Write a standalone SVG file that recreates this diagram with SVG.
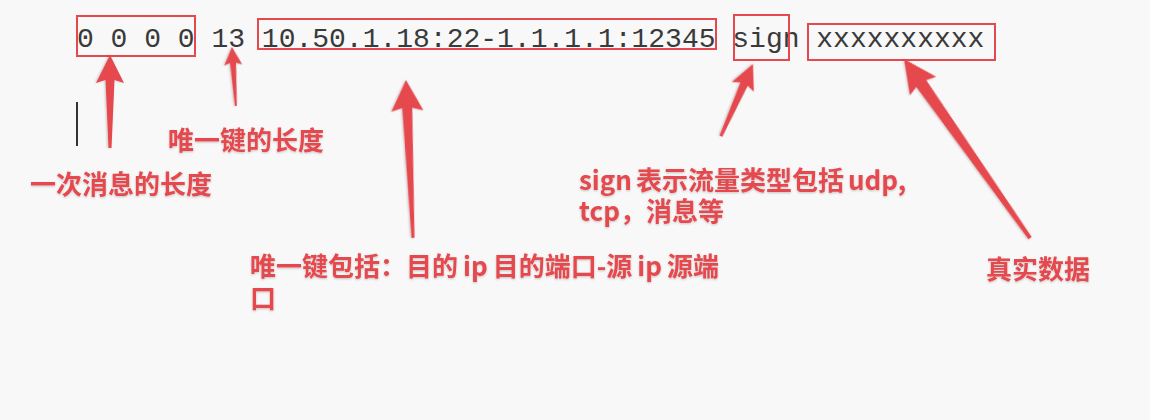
<svg xmlns="http://www.w3.org/2000/svg" width="1150" height="420" viewBox="0 0 1150 420">
  <defs>
    <filter id="sh" x="-10%" y="-10%" width="120%" height="130%">
      <feDropShadow dx="0" dy="1" stdDeviation="1" flood-color="#000" flood-opacity="0.22"/>
    </filter>
    <style>
      .mono { font-family: "Liberation Mono", "DejaVu Sans Mono", monospace; font-size: 28px; fill: #3a3a3a; }
      .box { fill: none; stroke: #e5484d; stroke-width: 2; }
      .lbl { font-family: "Noto Sans CJK SC", "Noto Sans", sans-serif; font-weight: bold; font-size: 26px; fill: #e5484d; filter: url(#sh); }
      .arrow { fill: #e5484d; filter: url(#sh); }
    </style>
  </defs>
  <rect width="1150" height="420" fill="#f8f8f8"/>

  <g id="record">
    <text class="mono" x="77" y="47" xml:space="preserve">0 0 0 0 13 10.50.1.18:22-1.1.1.1:12345 sign xxxxxxxxxx</text>
  </g>

  <g id="box-length">
    <rect class="box" x="77" y="16" width="118" height="40"/>
  </g>
  <g id="box-key">
    <rect class="box" x="258" y="19" width="458" height="30"/>
  </g>
  <g id="box-sign">
    <rect class="box" x="734" y="15" width="55" height="45"/>
  </g>
  <g id="box-data">
    <rect class="box" x="808" y="24" width="187" height="36"/>
  </g>

  <g id="cursor">
    <line x1="77" y1="102" x2="77" y2="146" stroke="#000" stroke-width="1.6"/>
  </g>

  <g id="connectors">
    <polygon class="arrow" transform="translate(110,55) rotate(90)" points="0,0 28,14 25,4.5 93,1.5 93,-1.5 25,-4.5 28,-14"/>
    <polygon class="arrow" transform="translate(232,47) rotate(86.25)" points="0,0 18,9 16,3 59,1 59,-1 16,-3 18,-9"/>
    <polygon class="arrow" transform="translate(406,80) rotate(87.46)" points="0,0 31,16 28,5 158,1.5 158,-1.5 28,-5 31,-16"/>
    <polygon class="arrow" transform="translate(753,64) rotate(113.96)" points="0,0 25,12 22,4 79,1.5 79,-1.5 22,-4 25,-12"/>
    <polygon class="arrow" transform="translate(904,59) rotate(54.86)" points="0,0 33,16 30,6 219,2 219,-2 30,-6 33,-16"/>
  </g>

  <g id="label-msg-length">
    <text class="lbl" x="30" y="194">一次消息的长度</text>
  </g>
  <g id="label-key-length">
    <text class="lbl" x="168" y="150">唯一键的长度</text>
  </g>
  <g id="label-key">
    <text class="lbl" x="250" y="276">唯一键包括：目的<tspan dx="5">ip</tspan><tspan dx="5">目的端口-源</tspan><tspan dx="5">ip</tspan><tspan dx="5">源端</tspan><tspan x="250" dy="32">口</tspan></text>
  </g>
  <g id="label-sign">
    <text class="lbl" x="579" y="190">sign<tspan dx="4">表示流量类型包括</tspan><tspan dx="4">udp,</tspan><tspan x="579" dy="31">tcp，消息等</tspan></text>
  </g>
  <g id="label-data">
    <text class="lbl" x="986" y="279">真实数据</text>
  </g>
</svg>
